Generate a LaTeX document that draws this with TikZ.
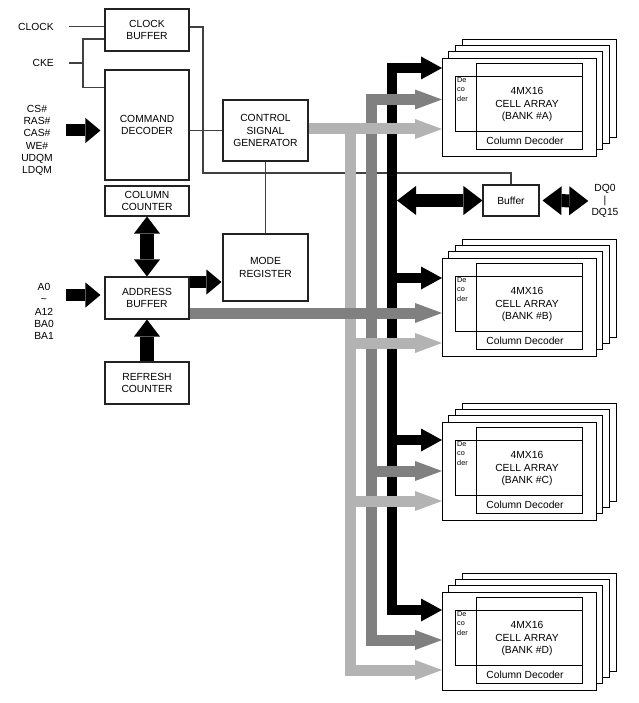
\documentclass[tikz,border=0pt]{standalone}
\usepackage{fontspec}
\setmainfont{Liberation Sans}
\usetikzlibrary{arrows.meta,calc}
\definecolor{sdink}{HTML}{222222}
\definecolor{sdline}{HTML}{404040}
\definecolor{sdlight}{HTML}{B3B3B3}
\definecolor{sdmid}{HTML}{808080}
\tikzset{
  bx/.style={draw=sdink, line width=0.9pt, fill=white, align=center, inner sep=0pt, font=\fontsize{8.8}{10.5}\selectfont},
  blk/.style={bx, minimum width=25.2mm, minimum height=12.6mm},
  lbl/.style={align=center, inner sep=0pt, font=\fontsize{8.8}{10.5}\selectfont},
  dec/.style={align=left, inner sep=0pt, font=\fontsize{6.2}{7.8}\selectfont},
  ln/.style={draw=sdline, line width=0.9pt},
  bank/.style={draw=black, line width=0.8pt, fill=white},
  bankln/.style={draw=black, line width=0.8pt},
  fat/.style={line width=3.6mm, color=black, -{Triangle[length=4.5mm, width=7.5mm, line width=0pt]}},
  fatv/.style={line width=4mm, color=black, {Triangle[length=5.1mm, width=7.8mm, line width=0pt]}-{Triangle[length=5.1mm, width=7.8mm, line width=0pt]}},
  fatup/.style={line width=4mm, color=black, -{Triangle[length=5.1mm, width=7.8mm, line width=0pt]}},
  fatdbl/.style={line width=3.9mm, color=black, {Triangle[length=5.7mm, width=8.7mm, line width=0pt]}-{Triangle[length=5.7mm, width=8.7mm, line width=0pt]}},
  bkbar/.style={line width=3mm, color=black},
  bkarr/.style={bkbar, -{Triangle[length=6.3mm, width=6.9mm, line width=0pt]}},
  mdbar/.style={line width=3.3mm, color=sdmid},
  mdarr/.style={mdbar, -{Triangle[length=8.1mm, width=6mm, line width=0pt]}},
  ltbar/.style={line width=3.3mm, color=sdlight},
  ltarr/.style={ltbar, -{Triangle[length=8.1mm, width=6mm, line width=0pt]}},
}
\begin{document}
\begin{tikzpicture}[x=0.3mm, y=-0.3mm]
  \useasboundingbox (0,0) rectangle (638,703);
  % control side
  \node[blk] (clkbuf) at (147,30) {CLOCK\\BUFFER};
  \node[bx, minimum width=25.2mm, minimum height=33mm] (cmddec) at (147,125) {COMMAND\\DECODER};
  \node[bx, minimum width=25.2mm, minimum height=9mm] (colcnt) at (147,201) {COLUMN\\COUNTER};
  \node[blk] (addrbuf) at (147,298) {ADDRESS\\BUFFER};
  \node[blk] (refcnt) at (147,383) {REFRESH\\COUNTER};
  \node[bx, minimum width=25.5mm, minimum height=18.3mm] (csg) at (265.5,130.5) {CONTROL\\SIGNAL\\GENERATOR};
  \node[bx, minimum width=25.5mm, minimum height=20.1mm] (modereg) at (265.5,267.5) {MODE\\REGISTER};
  \node[bx, minimum width=16.8mm, minimum height=9.3mm] (iobuf) at (511,200.5) {Buffer};
  % pins
  \node[lbl, anchor=east] (clk) at (54,26.5) {CLOCK};
  \node[lbl, anchor=east] (cke) at (54,63) {CKE};
  \node[lbl] (cmdpins) at (37,140.5) {CS\#\\RAS\#\\CAS\#\\WE\#\\UDQM\\LDQM};
  \node[lbl] (addrpins) at (44,311.5) {A0\\\textasciitilde\\A12\\BA0\\BA1};
  \node[lbl] (dq) at (605,201) {DQ0\\|\\DQ15};
  % banks
  \foreach \bk/\yy/\ka/\kb/\kc in {A/58/10/41.5/71, B/258/20/55/85, C/422/18/49/79, D/592/18/48/78}{
    \foreach \k in {3,2,1}
      \draw[bank] (442+6.7*\k,\yy-6.3*\k) rectangle ++(154,98);
    \node[bank, minimum width=46.2mm, minimum height=29.4mm, inner sep=0pt] (bank\bk) at (519,\yy+49) {};
    \draw[bankln] (476,\yy+5) rectangle (582,\yy+91);
    \draw[bankln] (455,\yy+18) rectangle (582,\yy+73);
    \node[dec, anchor=north west] (dec\bk) at (457,\yy+19.5) {De\\co\\der};
    \node[lbl] (cell\bk) at (527,\yy+46.5) {4MX16\\CELL ARRAY\\(BANK \#\bk)};
    \node[lbl] (coldec\bk) at (525,\yy+83) {Column Decoder};
    \coordinate (bk\bk) at (442,\yy+\ka);
    \coordinate (md\bk) at (442,\yy+\kb);
    \coordinate (lt\bk) at (442,\yy+\kc);
  }
  % thin wires
  \coordinate (ckej) at (83,63);
  \coordinate (clkturn) at (203,173);
  \draw[ln] ($(clk.east)+(15,0)$) -- (clk.east -| clkbuf.west);
  \draw[ln] ($(cke.east)+(15,0)$) -- (ckej);
  \draw[ln] ($(clkbuf.west)+(0,9)$) -| (ckej) |- ($(cmddec.north west)+(0,18)$);
  \draw[ln] ($(clkbuf.east)+(0,-3)$) -| (clkturn) -| (iobuf.north);
  \draw[ln] (csg.west -| cmddec.east) -- (csg.west);
  \draw[ln] (csg.south) -- (modereg.north);
  % buses, verticals first
  \coordinate (ltbus) at (350,0);
  \coordinate (mdbus) at (371,0);
  \coordinate (bkbus) at (392,0);
  \draw[ltbar] ($(ltbus |- ltA)+(0,-5.5)$) -- ($(ltbus |- ltD)+(0,5.5)$);
  \draw[mdbar] ($(mdbus |- mdA)+(0,-5.5)$) -- ($(mdbus |- mdD)+(0,5.5)$);
  \draw[bkbar] ($(bkbus |- bkA)+(0,-5)$) -- ($(bkbus |- bkD)+(0,5)$);
  \draw[ltarr] (csg.east |- ltA) -- (ltA);
  \foreach \bk in {B,C,D}
    \draw[ltarr] ($(ltbus |- lt\bk)+(-5.5,0)$) -- (lt\bk);
  \draw[mdarr] (addrbuf.east |- mdB) -- (mdB);
  \foreach \bk in {A,C,D}
    \draw[mdarr] ($(mdbus |- md\bk)+(-5.5,0)$) -- (md\bk);
  \foreach \bk in {A,B,C,D}
    \draw[bkarr] ($(bkbus |- bk\bk)+(-5,0)$) -- (bk\bk);
  % fat arrows
  \draw[fat] ($(cmddec.west)+(-38,5.5)$) -- ($(cmddec.west)+(-4,5.5)$);
  \draw[fat] ($(addrbuf.west)+(-38,-3)$) -- ($(addrbuf.west)+(-4,-3)$);
  \draw[fat] ($(addrbuf.east)+(0,-16)$) -- ($(addrbuf.east -| modereg.west)+(-1,-16)$);
  \draw[fatv] (colcnt.south) -- (addrbuf.north);
  \draw[fatup] (refcnt.north) -- (addrbuf.south);
  \draw[fatdbl] ($(bkbus |- iobuf.west)+(5,0)$) -- (iobuf.west);
  \draw[fatdbl] ($(iobuf.east)+(3,0)$) -- ($(dq.west)+(-3,0)$);
\end{tikzpicture}
\end{document}
